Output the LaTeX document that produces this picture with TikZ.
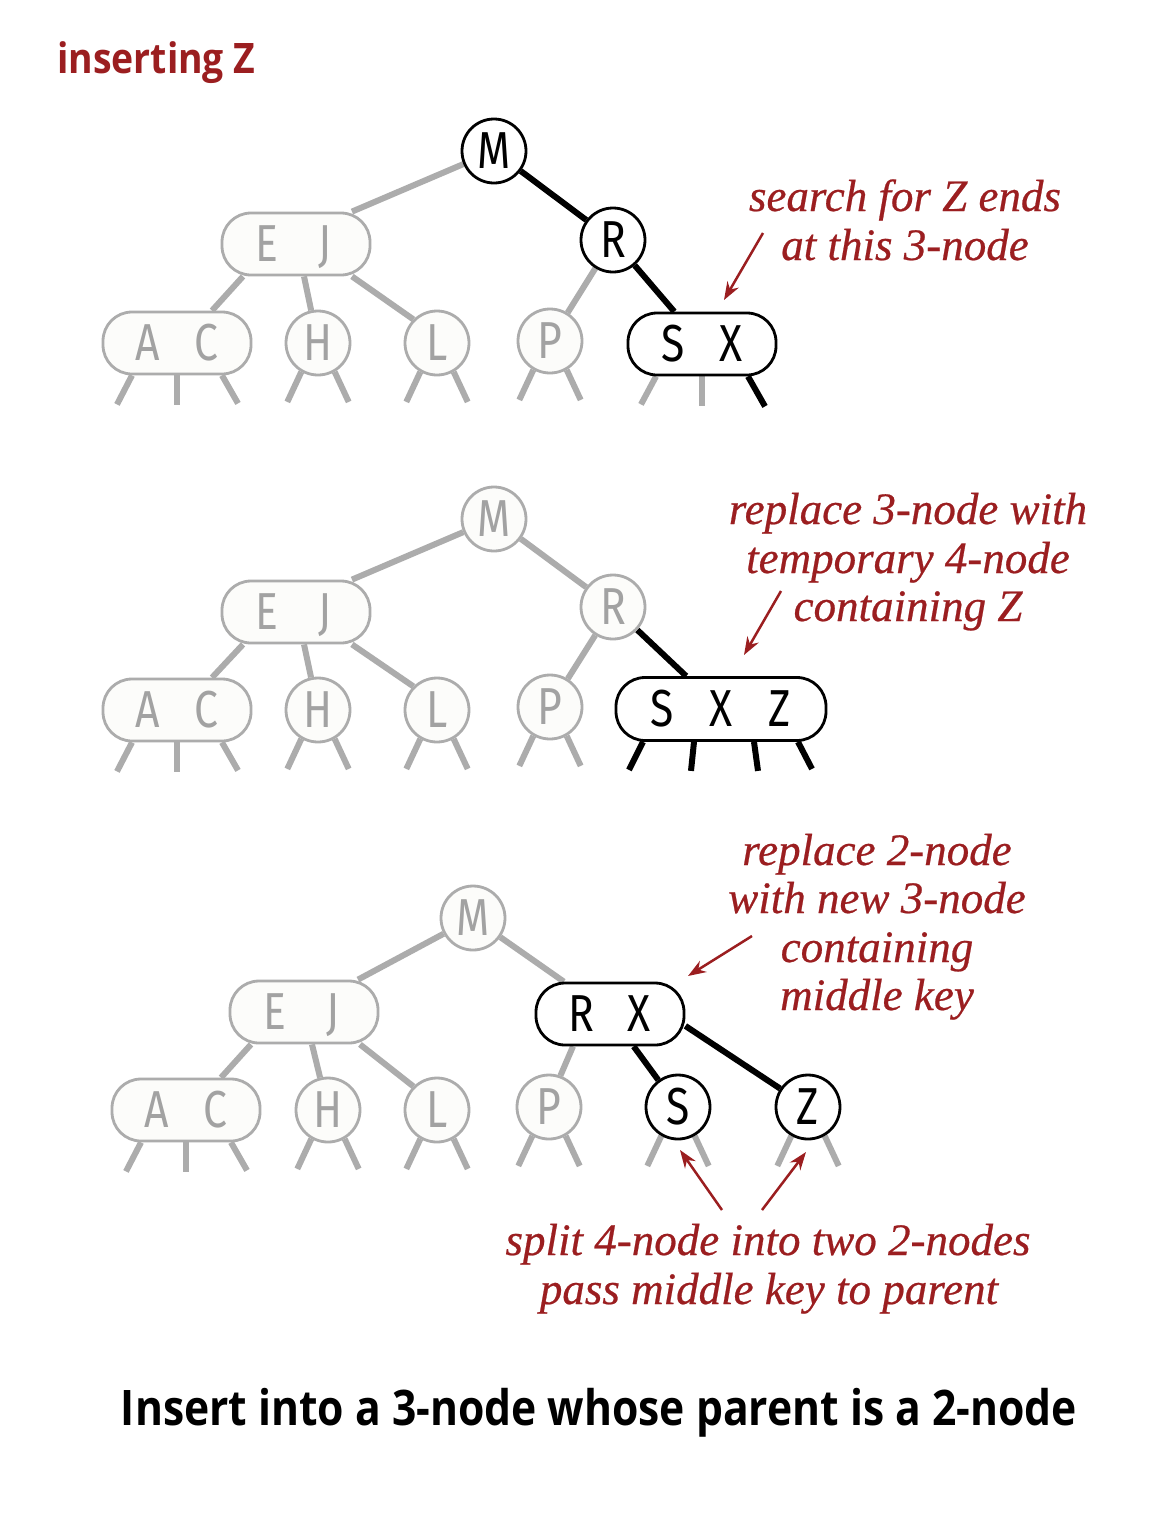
\documentclass[tikz,border=0pt]{standalone}
\usepackage{fontspec}
\usetikzlibrary{arrows.meta,calc}
\newfontfamily\keyfont[FakeStretch=0.82]{Fira Sans}
\newfontfamily\notefont[FakeBold=0.5]{Liberation Serif}
\newfontfamily\headfont[FakeStretch=0.89]{Open Sans}
\newfontfamily\capfont[FakeStretch=0.87]{Open Sans}
\definecolor{annot}{RGB}{155,30,32}
\definecolor{faint}{RGB}{172,172,172}
\definecolor{faintkey}{RGB}{162,162,162}
\definecolor{paper}{RGB}{252,252,250}
\newcommand{\kpair}[2]{\makebox[58pt]{#1}\makebox[58pt]{#2}}
\newcommand{\ktrio}[3]{\makebox[59pt]{#1}\makebox[59pt]{#2}\makebox[59pt]{#3}}
\pgfdeclarelayer{background}
\pgfsetlayers{background,main}
\begin{document}
\begin{tikzpicture}[x=1pt,y=-1pt,
  key/.style={font=\keyfont\fontsize{52}{52}\selectfont, inner sep=0pt,
    line width=2.8pt, text height=35.5pt, text depth=0pt},
  two/.style={key, circle, minimum size=64pt},
  three/.style={key, rectangle, rounded corners=29pt, minimum width=148pt, minimum height=62pt},
  four/.style={key, rectangle, rounded corners=29pt, minimum width=210pt, minimum height=63pt},
  live/.style={draw=black, fill=white, text=black},
  past/.style={draw=faint, fill=paper, text=faintkey},
  link/.style={line width=6pt, draw=faint},
  hot/.style={line width=6pt, draw=black},
  note/.style={font=\notefont\itshape\fontsize{45}{45}\selectfont, text=annot,
    inner sep=0pt, anchor=base},
  pointer/.style={draw=annot, line width=2.5pt, -{Stealth[length=18pt,width=13pt]}}]
\useasboundingbox (0,0) rectangle (1160,1516);
\begin{pgfonlayer}{background}
  \fill[white] (0,0) rectangle (1160,1516);
\end{pgfonlayer}

% heading and caption
\node[anchor=base west, font=\headfont\bfseries\fontsize{42}{42}\selectfont,
  text=annot, inner sep=0pt] (head) at (57,73) {inserting Z};
\node[anchor=base, font=\capfont\bfseries\fontsize{49}{49}\selectfont,
  inner sep=0pt] (caption) at (599,1425) {Insert into a 3-node whose parent is a 2-node};

% ---------- step 1: search ends at the 3-node S X ----------
\node[two,live]   (m1)  at (494,151) {M};
\node[three,past] (ej1) at (296,244) {\kpair{E}{J}};
\node[two,live]   (r1)  at (613,240) {R};
\node[three,past] (ac1) at (177,343) {\kpair{A}{C}};
\node[two,past]   (h1)  at (318,343) {H};
\node[two,past]   (l1)  at (437,343) {L};
\node[two,past]   (p1)  at (550,341) {P};
\node[three,live] (sx1) at (702,344) {\kpair{S}{X}};
\begin{pgfonlayer}{background}
  \draw[link] (m1) -- ([xshift=56pt]ej1.north);
  \draw[hot]  (m1) -- (r1);
  \draw[link] ([xshift=-53pt]ej1.south) -- ([xshift=35pt]ac1.north);
  \draw[link] ([xshift=8pt]ej1.south) -- (h1);
  \draw[link] ([xshift=56pt]ej1.south) -- (l1.135);
  \draw[link] (r1) -- (p1);
  \draw[hot]  (r1) -- (sx1);
  \draw[link] ([xshift=-45pt]ac1.south) -- ++(-15,29);
  \draw[link] (ac1.south) -- ++(0,30);
  \draw[link] ([xshift=45pt]ac1.south) -- ++(16,28);
  \foreach \n in {h1,l1,p1} {
    \draw[link] (\n.240) -- ++(-14,30);
    \draw[link] (\n.300) -- ++(14,30);
  }
  \draw[link] ([xshift=-46pt]sx1.south) -- ++(-15,28);
  \draw[link] (sx1.south) -- ++(0,30);
  \draw[hot]  ([xshift=46pt]sx1.south) -- ++(17,30);
\end{pgfonlayer}
\node[note] (n1a) at (905,211) {search for Z ends};
\node[note] (n1b) at (905,260) {at this 3-node};
\coordinate (a1s) at (763,233);
\coordinate (a1e) at (724,300);
\draw[pointer] (a1s) -- (a1e);

% ---------- step 2: temporary 4-node ----------
\node[two,past]   (m2)   at (494,519) {M};
\node[three,past] (ej2)  at (296,612) {\kpair{E}{J}};
\node[two,past]   (r2)   at (613,607) {R};
\node[three,past] (ac2)  at (177,710) {\kpair{A}{C}};
\node[two,past]   (h2)   at (318,710) {H};
\node[two,past]   (l2)   at (437,710) {L};
\node[two,past]   (p2)   at (550,707) {P};
\node[four,live]  (sxz2) at (721,709) {\ktrio{S}{X}{Z}};
\begin{pgfonlayer}{background}
  \draw[link] (m2) -- ([xshift=56pt]ej2.north);
  \draw[link] (m2) -- (r2);
  \draw[link] ([xshift=-53pt]ej2.south) -- ([xshift=35pt]ac2.north);
  \draw[link] ([xshift=8pt]ej2.south) -- (h2);
  \draw[link] ([xshift=56pt]ej2.south) -- (l2.135);
  \draw[link] (r2) -- (p2);
  \draw[hot]  (r2) -- (sxz2);
  \draw[link] ([xshift=-45pt]ac2.south) -- ++(-15,29);
  \draw[link] (ac2.south) -- ++(0,30);
  \draw[link] ([xshift=45pt]ac2.south) -- ++(16,28);
  \foreach \n in {h2,l2,p2} {
    \draw[link] (\n.240) -- ++(-14,30);
    \draw[link] (\n.300) -- ++(14,30);
  }
  \draw[hot] ([xshift=-78pt]sxz2.south) -- ++(-14,28);
  \draw[hot] ([xshift=-27pt]sxz2.south) -- ++(-3,29);
  \draw[hot] ([xshift=33pt]sxz2.south) -- ++(4,29);
  \draw[hot] ([xshift=77pt]sxz2.south) -- ++(14,27);
\end{pgfonlayer}
\node[note] (n2a) at (908,524) {replace 3-node with};
\node[note] (n2b) at (908,573) {temporary 4-node};
\node[note] (n2c) at (908,621) {containing Z};
\coordinate (a2s) at (781,591);
\coordinate (a2e) at (744,655);
\draw[pointer] (a2s) -- (a2e);

% ---------- step 3: split and pass the middle key up ----------
\node[two,past]   (m3)  at (473,918) {M};
\node[three,past] (ej3) at (304,1012) {\kpair{E}{J}};
\node[three,live] (rx3) at (610,1014) {\kpair{R}{X}};
\node[three,past] (ac3) at (186,1110) {\kpair{A}{C}};
\node[two,past]   (h3)  at (328,1110) {H};
\node[two,past]   (l3)  at (437,1110) {L};
\node[two,past]   (p3)  at (549,1107) {P};
\node[two,live]   (s3)  at (678,1107) {S};
\node[two,live]   (z3)  at (808,1107) {Z};
\begin{pgfonlayer}{background}
  \draw[link] (m3) -- ([xshift=54pt]ej3.north);
  \draw[link] (m3) -- (rx3);
  \draw[link] ([xshift=-53pt]ej3.south) -- ([xshift=35pt]ac3.north);
  \draw[link] ([xshift=8pt]ej3.south) -- (h3);
  \draw[link] ([xshift=56pt]ej3.south) -- (l3.135);
  \draw[link] ([xshift=-37pt]rx3.south) -- (p3.70);
  \draw[hot]  (rx3) -- (s3);
  \draw[hot]  (rx3.-9) -- (z3);
  \draw[link] ([xshift=-45pt]ac3.south) -- ++(-15,29);
  \draw[link] (ac3.south) -- ++(0,30);
  \draw[link] ([xshift=45pt]ac3.south) -- ++(16,28);
  \foreach \n in {h3,l3,p3,s3,z3} {
    \draw[link] (\n.240) -- ++(-14,30);
    \draw[link] (\n.300) -- ++(14,30);
  }
\end{pgfonlayer}
\node[note] (n3a) at (877,865) {replace 2-node};
\node[note] (n3b) at (877,913) {with new 3-node};
\node[note] (n3c) at (877,962) {containing};
\node[note] (n3d) at (877,1010) {middle key};
\coordinate (a3s) at (752,936);
\coordinate (a3e) at (688,976);
\draw[pointer] (a3s) -- (a3e);

\node[note] (n4a) at (768,1255) {split 4-node into two 2-nodes};
\node[note] (n4b) at (769,1304) {pass middle key to parent};
\coordinate (a4s) at (722,1210);
\coordinate (a4e) at (680,1150);
\coordinate (a5s) at (762,1210);
\coordinate (a5e) at (806,1152);
\draw[pointer] (a4s) -- (a4e);
\draw[pointer] (a5s) -- (a5e);
\end{tikzpicture}
\end{document}
